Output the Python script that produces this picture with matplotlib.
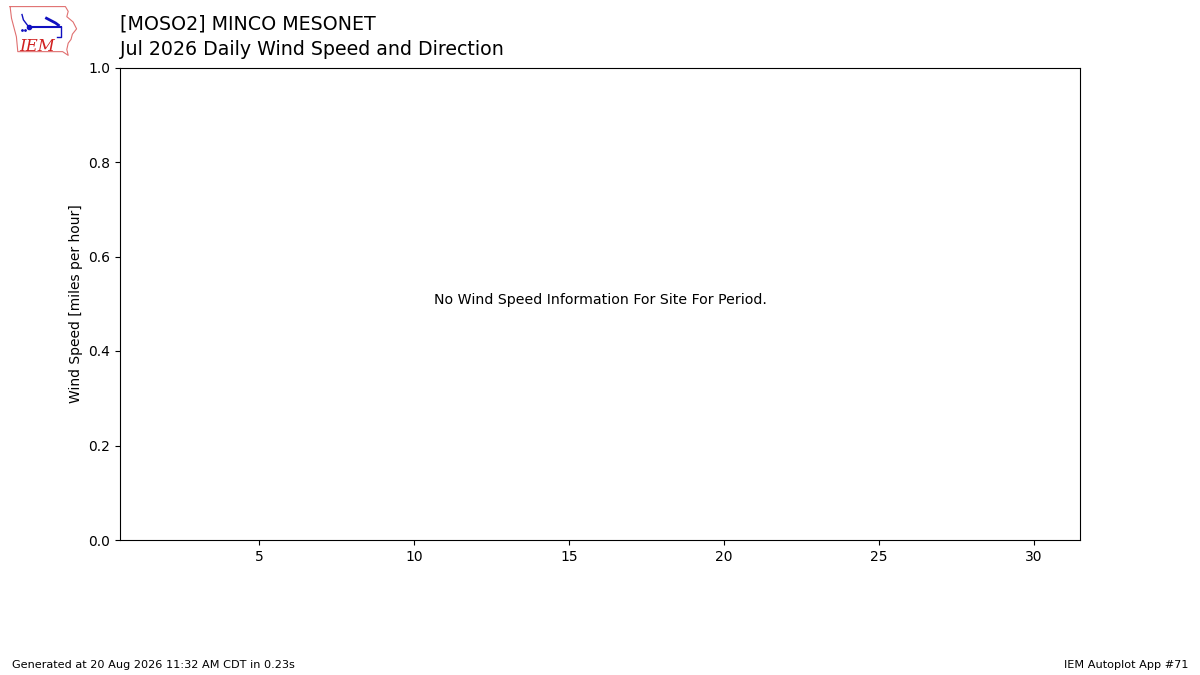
import matplotlib
matplotlib.use("Agg")
import matplotlib.pyplot as plt

# chart content
station = "[MOSO2] MINCO MESONET"
subtitle = "Jul 2026 Daily Wind Speed and Direction"
ylabel = "Wind Speed [miles per hour]"
message = "No Wind Speed Information For Site For Period."
footer_left = "Generated at 20 Aug 2026 11:32 AM CDT in 0.23s"
footer_right = "IEM Autoplot App #71"
days = []          # no observations for this period
speeds = []
xticks = [5, 10, 15, 20, 25, 30]
yticks = [0.0, 0.2, 0.4, 0.6, 0.8, 1.0]

fig = plt.figure(figsize=(12, 6.75), dpi=100)
ax = fig.add_axes([0.1, 0.2, 0.8, 0.7])
ax.bar(days, speeds, color="tab:blue")
ax.set_xlim(0.5, 31.5)
ax.set_ylim(0, 1)
ax.set_xticks(xticks)
ax.set_yticks(yticks)
ax.set_ylabel(ylabel)
ax.text(0.5, 0.5, message, transform=ax.transAxes, ha="center", fontsize=10.2)

fig.text(0.1, 1 - 30 / 675, station, fontsize=13.7)
fig.text(0.1, 1 - 55 / 675, subtitle, fontsize=13.7)
fig.text(0.01, 0.01, footer_left, fontsize=8.15)
fig.text(0.99, 0.01, footer_right, fontsize=8.15, ha="right")

# rough IEM logo
lax = fig.add_axes([8 / 1200, 1 - 58 / 675, 70 / 1200, 53 / 675])
lax.set_xlim(0, 1)
lax.set_ylim(0, 1)
lax.axis("off")
outline_x = [0.03, 0.82, 0.86, 0.84, 0.93, 0.98, 0.92, 0.90, 0.86, 0.84, 0.86, 0.78, 0.14, 0.12, 0.05, 0.03]
outline_y = [0.97, 0.97, 0.88, 0.78, 0.68, 0.55, 0.45, 0.35, 0.28, 0.16, 0.05, 0.12, 0.12, 0.40, 0.75, 0.97]
lax.plot(outline_x, outline_y, color="#e07070", lw=0.8)
lax.plot([0.30, 0.75], [0.58, 0.58], color="#1010c0", lw=1.5)
lax.plot([0.30], [0.58], "o", color="#1010c0", ms=3)
lax.plot([0.30, 0.22, 0.20], [0.58, 0.72, 0.82], color="#1010c0", lw=1.0)
lax.plot([0.55, 0.68, 0.72], [0.75, 0.66, 0.62], color="#1010c0", lw=2.0)
lax.plot([0.75, 0.75, 0.70], [0.58, 0.40, 0.40], color="#1010c0", lw=1.0)
lax.plot([0.20, 0.24], [0.52, 0.52], ".", color="#1010c0", ms=2)
lax.text(0.16, 0.14, "IEM", color="#d02020", fontsize=12, family="DejaVu Serif", style="italic")

fig.savefig("out.png", dpi=100)
